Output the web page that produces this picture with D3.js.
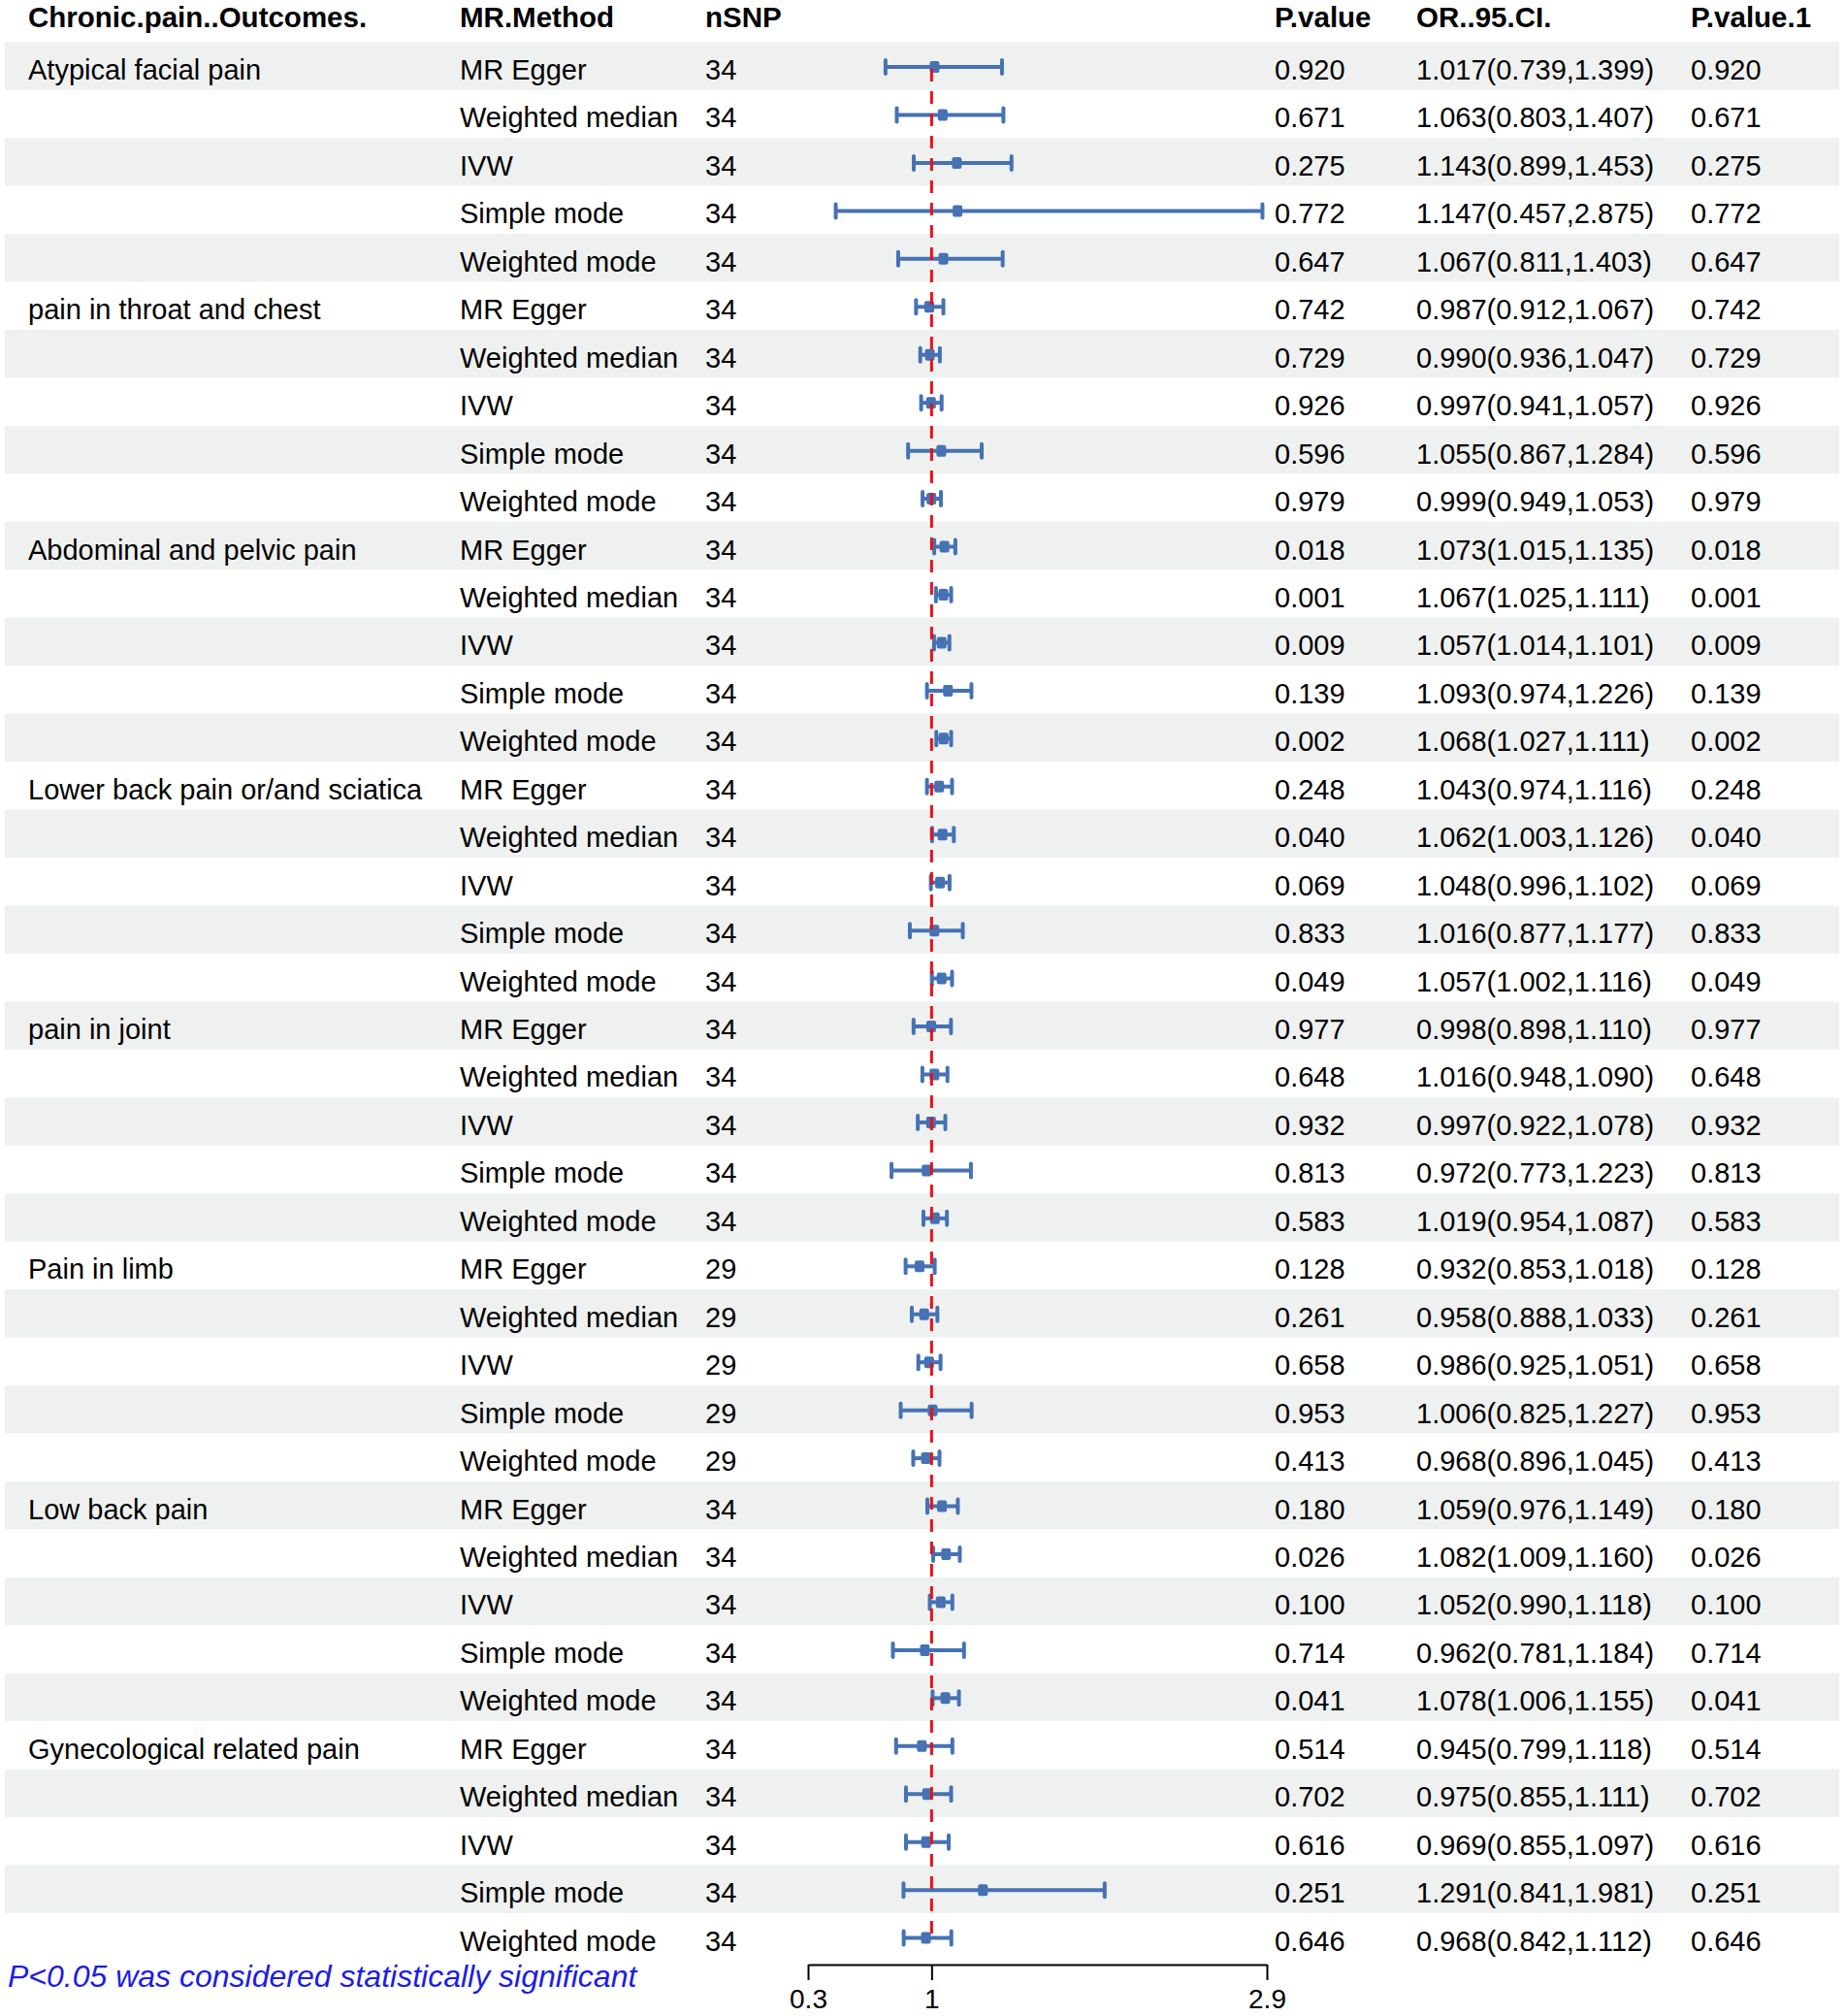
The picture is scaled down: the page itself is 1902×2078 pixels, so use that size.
<!DOCTYPE html>
<html>
<head>
<meta charset="utf-8">
<script src="https://cdn.jsdelivr.net/npm/d3@7"></script>
<style>
  body { margin: 0; background: #fff; }
  svg text { font-family: "Liberation Sans", Arial, sans-serif; }
</style>
</head>
<body>
<svg id="chart" width="1902" height="2078"></svg>
<script>
// column headers
const headers = ["Chronic.pain..Outcomes.", "MR.Method", "nSNP", "P.value", "OR..95.CI.", "P.value.1"];

const outcomes = ["Atypical facial pain", "pain in throat and chest", "Abdominal and pelvic pain",
  "Lower back pain or/and sciatica", "pain in joint", "Pain in limb", "Low back pain", "Gynecological related pain"];
const methods = ["MR Egger", "Weighted median", "IVW", "Simple mode", "Weighted mode"];
const nsnp = [34, 34, 34, 34, 34, 29, 34, 34];

// one entry per row, outcome by outcome, methods in the order above
const pval = [
  0.920, 0.671, 0.275, 0.772, 0.647,
  0.742, 0.729, 0.926, 0.596, 0.979,
  0.018, 0.001, 0.009, 0.139, 0.002,
  0.248, 0.040, 0.069, 0.833, 0.049,
  0.977, 0.648, 0.932, 0.813, 0.583,
  0.128, 0.261, 0.658, 0.953, 0.413,
  0.180, 0.026, 0.100, 0.714, 0.041,
  0.514, 0.702, 0.616, 0.251, 0.646
];
const or = [
  1.017, 1.063, 1.143, 1.147, 1.067,
  0.987, 0.990, 0.997, 1.055, 0.999,
  1.073, 1.067, 1.057, 1.093, 1.068,
  1.043, 1.062, 1.048, 1.016, 1.057,
  0.998, 1.016, 0.997, 0.972, 1.019,
  0.932, 0.958, 0.986, 1.006, 0.968,
  1.059, 1.082, 1.052, 0.962, 1.078,
  0.945, 0.975, 0.969, 1.291, 0.968
];
const lower = [
  0.739, 0.803, 0.899, 0.457, 0.811,
  0.912, 0.936, 0.941, 0.867, 0.949,
  1.015, 1.025, 1.014, 0.974, 1.027,
  0.974, 1.003, 0.996, 0.877, 1.002,
  0.898, 0.948, 0.922, 0.773, 0.954,
  0.853, 0.888, 0.925, 0.825, 0.896,
  0.976, 1.009, 0.990, 0.781, 1.006,
  0.799, 0.855, 0.855, 0.841, 0.842
];
const upper = [
  1.399, 1.407, 1.453, 2.875, 1.403,
  1.067, 1.047, 1.057, 1.284, 1.053,
  1.135, 1.111, 1.101, 1.226, 1.111,
  1.116, 1.126, 1.102, 1.177, 1.116,
  1.110, 1.090, 1.078, 1.223, 1.087,
  1.018, 1.033, 1.051, 1.227, 1.045,
  1.149, 1.160, 1.118, 1.184, 1.155,
  1.118, 1.111, 1.097, 1.981, 1.112
];
const axisTicks = [0.3, 1, 2.9];
const footnote = "P<0.05 was considered statistically significant";

const rows = pval.map((p, i) => ({
  outcome: i % 5 === 0 ? outcomes[Math.floor(i / 5)] : "",
  method: methods[i % 5],
  n: nsnp[Math.floor(i / 5)],
  p: p, or: or[i], lo: lower[i], hi: upper[i]
}));

const svg = d3.select("#chart");
const fontSize = 29;
const blue = "#4672b4";

const y = d3.scaleBand()
  .domain(d3.range(rows.length))
  .range([43.3, 43.3 + rows.length * 49.45])
  .padding(0);
const yc = i => y(i) + y.bandwidth() / 2;

const x = d3.scaleLinear().domain([0.3, 2.9]).range([833, 1306]);

const colX = [29, 474, 727, 1314, 1460, 1743];

// stripes
svg.append("g").selectAll("rect")
  .data(rows.filter((d, i) => i % 2 === 0))
  .join("rect")
  .attr("x", 5)
  .attr("y", (d) => y(rows.indexOf(d)))
  .attr("width", 1891)
  .attr("height", y.bandwidth())
  .attr("fill", "#eff1f0");

// header
svg.append("g").selectAll("text")
  .data(headers)
  .join("text")
  .attr("x", (d, i) => colX[i])
  .attr("y", 28)
  .style("font-size", "29.5px")
  .style("font-weight", "bold")
  .text(d => d);

// table text
const fmt = d3.format(".3f");
const cells = svg.append("g").style("font-size", fontSize + "px").attr("fill", "#000");
rows.forEach((d, i) => {
  const vals = [d.outcome, d.method, d.n, fmt(d.p), `${fmt(d.or)}(${fmt(d.lo)},${fmt(d.hi)})`, fmt(d.p)];
  vals.forEach((v, j) => {
    if (v === "") return;
    cells.append("text")
      .attr("x", colX[j])
      .attr("y", yc(i) + 14)
      .text(v);
  });
});

// confidence intervals
const ci = svg.append("g");
rows.forEach((d, i) => {
  const cy = yc(i) + 1;
  ci.append("line")
    .attr("x1", x(d.lo)).attr("x2", x(d.hi))
    .attr("y1", cy).attr("y2", cy)
    .attr("stroke", blue).attr("stroke-width", 4);
  [d.lo, d.hi].forEach(v => {
    ci.append("line")
      .attr("x1", x(v)).attr("x2", x(v))
      .attr("y1", cy - 7).attr("y2", cy + 7)
      .attr("stroke", blue).attr("stroke-width", 4)
      .attr("stroke-linecap", "round");
  });
  ci.append("rect")
    .attr("x", x(d.or) - 5).attr("y", cy - 6)
    .attr("width", 10).attr("height", 12)
    .attr("rx", 2)
    .attr("fill", blue);
});

// reference line at OR = 1
svg.append("line")
  .attr("x1", x(1)).attr("x2", x(1))
  .attr("y1", yc(0) + 3).attr("y2", yc(rows.length - 1) + 6)
  .attr("stroke", "#e8101a")
  .attr("stroke-width", 3)
  .attr("stroke-dasharray", "13,10");

// x axis
const axis = svg.append("g")
  .attr("transform", "translate(0,2025)")
  .call(d3.axisBottom(x).tickValues(axisTicks).tickSize(16).tickSizeOuter(0).tickPadding(9)
    .tickFormat(d => String(d)));
axis.select(".domain").attr("stroke", "#000").attr("stroke-width", 2);
axis.selectAll(".tick line").attr("stroke", "#000").attr("stroke-width", 2);
axis.selectAll(".tick text")
  .attr("fill", "#000")
  .style("font-size", "28px")
  .style("font-family", "\"Liberation Sans\", Arial, sans-serif");

// footnote
svg.append("text")
  .attr("x", 8)
  .attr("y", 2048)
  .attr("fill", "#1c1ce6")
  .style("font-size", "32px")
  .style("font-style", "italic")
  .text(footnote);
</script>
</body>
</html>
